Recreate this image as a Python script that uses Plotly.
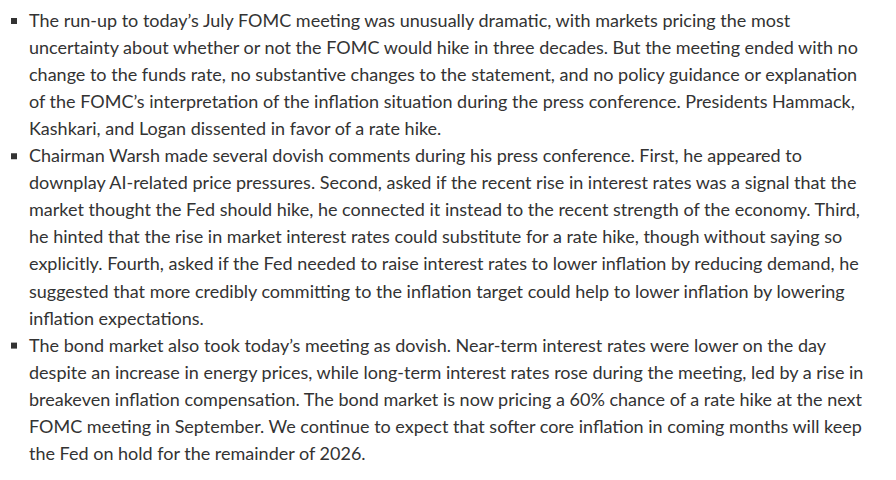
import plotly.graph_objects as go

paragraphs = [
    ["The run-up to today’s July FOMC meeting was unusually dramatic, with markets pricing the most",
     "uncertainty about whether or not the FOMC would hike in three decades. But the meeting ended with no",
     "change to the funds rate, no substantive changes to the statement, and no policy guidance or explanation",
     "of the FOMC’s interpretation of the inflation situation during the press conference. Presidents Hammack,",
     "Kashkari, and Logan dissented in favor of a rate hike."],
    ["Chairman Warsh made several dovish comments during his press conference. First, he appeared to",
     "downplay AI-related price pressures. Second, asked if the recent rise in interest rates was a signal that the",
     "market thought the Fed should hike, he connected it instead to the recent strength of the economy. Third,",
     "he hinted that the rise in market interest rates could substitute for a rate hike, though without saying so",
     "explicitly. Fourth, asked if the Fed needed to raise interest rates to lower inflation by reducing demand, he",
     "suggested that more credibly committing to the inflation target could help to lower inflation by lowering",
     "inflation expectations."],
    ["The bond market also took today’s meeting as dovish. Near-term interest rates were lower on the day",
     "despite an increase in energy prices, while long-term interest rates rose during the meeting, led by a rise in",
     "breakeven inflation compensation. The bond market is now pricing a 60% chance of a rate hike at the next",
     "FOMC meeting in September. We continue to expect that softer core inflation in coming months will keep",
     "the Fed on hold for the remainder of 2026."],
]

fig = go.Figure()
annotations = []
bx, by = [], []
y = 12
for para in paragraphs:
    bx.append(6); by.append(y + 1)
    for line in para:
        annotations.append(dict(x=19, y=y, xref="x", yref="y", text=line, showarrow=False,
                                xanchor="left", yanchor="middle",
                                font=dict(family="Lato", size=18, color="#333333")))
        y += 27.05

fig.add_trace(go.Scatter(x=bx, y=by, mode="markers",
                         marker=dict(symbol="square", size=6, color="#333333"),
                         hoverinfo="skip", showlegend=False))
fig.update_layout(width=896, height=480, margin=dict(l=0, r=0, t=0, b=0),
                  paper_bgcolor="white", plot_bgcolor="white",
                  annotations=annotations,
                  xaxis=dict(range=[0, 896], visible=False, fixedrange=True),
                  yaxis=dict(range=[480, 0], visible=False, fixedrange=True))
fig.write_html("out.html")
